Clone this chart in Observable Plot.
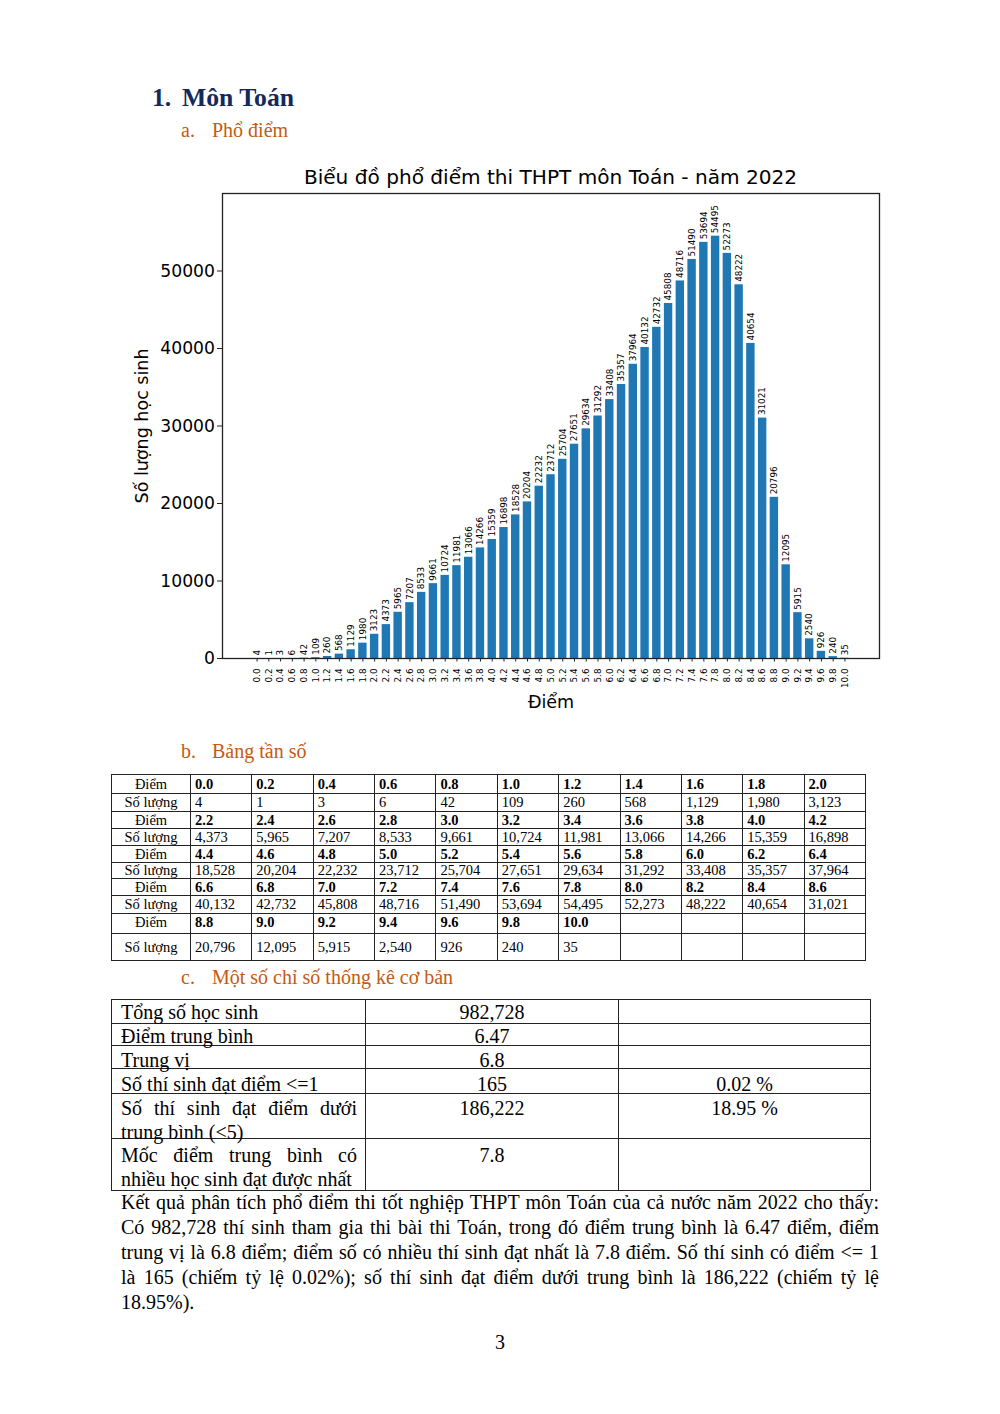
<!DOCTYPE html>
<html>
<head>
<meta charset="utf-8">
<script src="https://cdn.jsdelivr.net/npm/d3@7"></script>
<script src="https://cdn.jsdelivr.net/npm/@observablehq/plot@0.6"></script>
<style>
  html, body { margin: 0; padding: 0; background: #fff; }
  #page { position: relative; width: 1000px; height: 1414px; font-family: "Liberation Serif", "Times New Roman", serif; color: #000; overflow: hidden; }
  .abs { position: absolute; white-space: nowrap; }
  .h1 { font-weight: bold; font-size: 25.7px; line-height: 26px; color: #14295c; }
  .h2 { font-size: 20px; line-height: 20px; color: #c55a11; }
  #title { font-family: "DejaVu Sans"; font-size: 20.1px; line-height: 20px; text-align: center; }
  table { border-collapse: collapse; table-layout: fixed; position: absolute; }
  td { border: 1.2px solid #222; padding: 0; overflow: hidden; white-space: nowrap; }
  #freq td { font-size: 14.5px; line-height: 15px; padding-left: 4px; vertical-align: middle; }
  #freq td.lab { text-align: center; padding-left: 0; }
  #freq td.b { font-weight: bold; }
  #stats td { font-size: 20px; line-height: 24px; vertical-align: top; overflow: visible; }
  #stats td > div { overflow: visible; box-sizing: border-box; }
  #stats td.c1 > div { padding: 0 8px 0 9px; white-space: normal; text-align: justify; }
  #stats td.cc > div { text-align: center; }
  .pl { position: absolute; left: 121px; width: 758px; font-size: 20px; line-height: 25px; white-space: nowrap; }
  .pl.j { text-align: justify; text-align-last: justify; }
</style>
</head>
<body>
<div id="page">
  <div class="abs h1" style="left:152px; top:85px;">1.</div>
  <div class="abs h1" style="left:182px; top:85px;">Môn Toán</div>
  <div class="abs h2" style="left:181px; top:120px;">a.</div>
  <div class="abs h2" style="left:212px; top:120px;">Phổ điểm</div>
  <div id="title" class="abs" style="left:222px; width:657px; top:167px;"></div>
  <div id="chart" class="abs" style="left:100px; top:150px;"></div>
  <div class="abs h2" style="left:181px; top:741px;">b.</div>
  <div class="abs h2" style="left:212px; top:741px;">Bảng tần số</div>
  <table id="freq" style="left:111px; top:774px; width:754px;"></table>
  <div class="abs h2" style="left:181px; top:967px;">c.</div>
  <div class="abs h2" style="left:212px; top:967px;">Một số chỉ số thống kê cơ bản</div>
  <table id="stats" style="left:111px; top:999px; width:759px;"></table>
  <div id="para"></div>
  <div class="abs" style="left:0; width:1000px; text-align:center; top:1332px; font-size:20px; line-height:20px;">3</div>
</div>
<script>
const chartTitle = "Biểu đồ phổ điểm thi THPT môn Toán - năm 2022";
const yLabel = "Số lượng học sinh";
const xLabel = "Điểm";
const scoreLabels = ["0.0","0.2","0.4","0.6","0.8","1.0","1.2","1.4","1.6","1.8","2.0",
  "2.2","2.4","2.6","2.8","3.0","3.2","3.4","3.6","3.8","4.0","4.2",
  "4.4","4.6","4.8","5.0","5.2","5.4","5.6","5.8","6.0","6.2","6.4",
  "6.6","6.8","7.0","7.2","7.4","7.6","7.8","8.0","8.2","8.4","8.6",
  "8.8","9.0","9.2","9.4","9.6","9.8","10.0"];
const counts = [4,1,3,6,42,109,260,568,1129,1980,3123,
  4373,5965,7207,8533,9661,10724,11981,13066,14266,15359,16898,
  18528,20204,22232,23712,25704,27651,29634,31292,33408,35357,37964,
  40132,42732,45808,48716,51490,53694,54495,52273,48222,40654,31021,
  20796,12095,5915,2540,926,240,35];
const yTicks = [0,10000,20000,30000,40000,50000];

const statLabels = ["Tổng số học sinh","Điểm trung bình","Trung vị","Số thí sinh đạt điểm <=1","Số thí sinh đạt điểm dưới trung bình (<5)","Mốc điểm trung bình có nhiều học sinh đạt được nhất"];
const statValues = ["982,728","6.47","6.8","165","186,222","7.8"];
const statPercents = ["","","","0.02 %","18.95 %",""];

const paraLines = [
  "Kết quả phân tích phổ điểm thi tốt nghiệp THPT môn Toán của cả nước năm 2022 cho thấy:",
  "Có 982,728 thí sinh tham gia thi bài thi Toán, trong đó điểm trung bình là 6.47 điểm, điểm",
  "trung vị là 6.8 điểm; điểm số có nhiều thí sinh đạt nhất là 7.8 điểm. Số thí sinh có điểm <= 1",
  "là 165 (chiếm tỷ lệ 0.02%); số thí sinh đạt điểm dưới trung bình là 186,222 (chiếm tỷ lệ",
  "18.95%)."
];

document.getElementById("title").textContent = chartTitle;

const data = scoreLabels.map((s, i) => ({label: s, s: +s, n: counts[i]}));
const half = 0.08;

const plot = Plot.plot({
  width: 800,
  height: 570,
  marginLeft: 122,
  marginRight: 21,
  marginTop: 43,
  marginBottom: 62,
  style: {fontFamily: "DejaVu Sans", background: "transparent", overflow: "visible"},
  x: {domain: [-0.588, 10.588]},
  y: {domain: [0, 60000]},
  marks: [
    Plot.rectY(data, {x1: d => d.s - half, x2: d => d.s + half, y1: 0, y2: "n", fill: "#1f77b4", insetLeft: 0.5, insetRight: 0.5}),
    Plot.text(data, {x: "s", y: "n", text: d => String(d.n), rotate: -90, textAnchor: "start", lineAnchor: "middle", dy: -3, fontSize: 8.8, fill: "#000"}),
    Plot.axisY({ticks: yTicks, tickSize: 5, tickPadding: 2.5, fontSize: 17.2, tickFormat: d3.format("d"), label: null, stroke: "#222", fill: "#000"}),
    Plot.axisX({ticks: data.map(d => d.s), tickSize: 3.5, tickFormat: () => "", label: null, stroke: "#222"}),
    Plot.text(data, {x: "s", frameAnchor: "bottom", text: "label", rotate: -90, textAnchor: "end", lineAnchor: "middle", dy: 10, fontSize: 8.8, fill: "#000"}),
    Plot.text([yLabel], {frameAnchor: "left", dx: -80, rotate: -90, text: d => d, fontSize: 17.5, textAnchor: "middle", lineAnchor: "middle", fill: "#000"}),
    Plot.text([xLabel], {frameAnchor: "bottom", dy: 44, text: d => d, fontSize: 17.5, textAnchor: "middle", lineAnchor: "middle", fill: "#000"}),
    Plot.frame({stroke: "#222", strokeWidth: 1.3})
  ]
});
document.getElementById("chart").appendChild(plot);

// frequency table
const freq = document.getElementById("freq");
const cg = document.createElement("colgroup");
[79].concat(Array(11).fill(61.36)).forEach(w => { const c = document.createElement("col"); c.style.width = w + "px"; cg.appendChild(c); });
freq.appendChild(cg);
const rowH = [19,18,17,17,17,16,17,18,20,27];
const fmt = d3.format(",");
for (let r = 0; r < 5; r++) {
  const idx = d3.range(r * 11, r * 11 + 11);
  const tr1 = document.createElement("tr");
  tr1.style.height = rowH[2*r] + "px";
  const tr2 = document.createElement("tr");
  tr2.style.height = rowH[2*r+1] + "px";
  const l1 = document.createElement("td"); l1.className = "lab"; l1.textContent = "Điểm"; tr1.appendChild(l1);
  const l2 = document.createElement("td"); l2.className = "lab"; l2.textContent = "Số lượng"; tr2.appendChild(l2);
  idx.forEach(i => {
    const a = document.createElement("td"); a.className = "b";
    const b = document.createElement("td");
    if (i < scoreLabels.length) { a.textContent = scoreLabels[i]; b.textContent = fmt(counts[i]); }
    tr1.appendChild(a); tr2.appendChild(b);
  });
  if (r === 4) { tr1.querySelectorAll("td").forEach(td => { td.style.verticalAlign = "top"; td.style.paddingTop = "1px"; }); }
  freq.appendChild(tr1); freq.appendChild(tr2);
}

// stats table
const stats = document.getElementById("stats");
const cg2 = document.createElement("colgroup");
[254, 253, 252].forEach(w => { const c = document.createElement("col"); c.style.width = w + "px"; cg2.appendChild(c); });
stats.appendChild(cg2);
const sRowH = [24,22,23,25,45,52];
const sPad = [0,0,2,3,2,4];
statLabels.forEach((lab, i) => {
  const tr = document.createElement("tr");
  [[lab, "c1"], [statValues[i], "cc"], [statPercents[i], "cc"]].forEach(([t, cls]) => {
    const td = document.createElement("td"); td.className = cls;
    const d = document.createElement("div");
    d.style.height = (sRowH[i] - 1) + "px";
    d.style.paddingTop = sPad[i] + "px";
    d.textContent = t;
    td.appendChild(d); tr.appendChild(td);
  });
  stats.appendChild(tr);
});

// paragraph
const para = document.getElementById("para");
paraLines.forEach((t, i) => {
  const d = document.createElement("div");
  d.className = "pl" + (i < paraLines.length - 1 ? " j" : "");
  d.style.top = (1190 + i * 25) + "px";
  d.textContent = t;
  para.appendChild(d);
});
</script>
</body>
</html>
